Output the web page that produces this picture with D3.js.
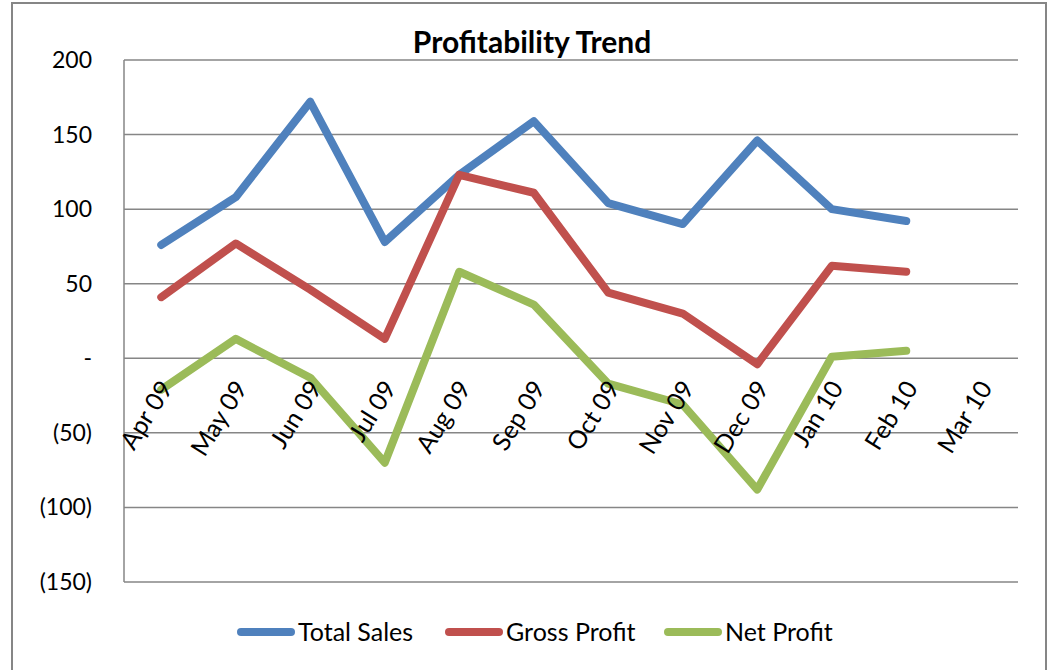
<!DOCTYPE html>
<html><head><meta charset="utf-8">
<script src="https://cdn.jsdelivr.net/npm/d3@7"></script>
<style>body{margin:0;background:#fff}svg{display:block}</style>
</head><body>
<script>
const categories = ["Apr 09","May 09","Jun 09","Jul 09","Aug 09","Sep 09","Oct 09","Nov 09","Dec 09","Jan 10","Feb 10","Mar 10"];
const totalSales = [76,108,172,78,123,159,104,90,146,100,92,null];
const grossProfit = [41,77,46,13,123,111,44,30,-4,62,58,null];
const netProfit = [-21,13,-13,-70,58,36,-17,-31,-88,1,5,null];
const yTicks = [200,150,100,50,0,-50,-100,-150];
const seriesNames = ["Total Sales","Gross Profit","Net Profit"];
const seriesColors = ["#4F81BD","#C0504D","#9BBB59"];
const series = [totalSales, grossProfit, netProfit];

const W=1049,H=670;
const font = "Lato, 'Open Sans', sans-serif";
const svg = d3.select("body").append("svg").attr("width",W).attr("height",H);
svg.append("rect").attr("x",12).attr("y",3).attr("width",1034).attr("height",700)
  .attr("fill","#fff").attr("stroke","#868686").attr("stroke-width",2);

const L=124,R=1018,T=60,B=582;
const x = d3.scaleBand().domain(categories).range([L,R]);
const y = d3.scaleLinear().domain([-150,200]).range([B,T]);

// grid
svg.append("g").selectAll("line").data(yTicks).join("line")
  .attr("x1",L).attr("x2",R).attr("y1",d=>y(d)).attr("y2",d=>y(d))
  .attr("stroke","#868686").attr("stroke-width",1.5);
svg.append("line").attr("x1",L).attr("x2",L).attr("y1",T).attr("y2",B)
  .attr("stroke","#868686").attr("stroke-width",1.5);

// y labels
const fmt = d => d===0 ? "-" : d<0 ? "("+Math.abs(d)+")" : String(d);
svg.append("g").selectAll("text").data(yTicks).join("text")
  .attr("x",92).attr("y",d=>y(d)).attr("dy","0.35em").attr("text-anchor","end")
  .attr("font-family",font).attr("font-size",23).attr("fill","#000").text(fmt);

// title
svg.append("text").attr("x",532).attr("y",53).attr("text-anchor","middle")
  .attr("font-family",font).attr("font-size",30).attr("font-weight","bold").text("Profitability Trend");

// lines
const line = d3.line().defined(d=>d.v!=null).x(d=>x(d.c)+x.bandwidth()/2).y(d=>y(d.v));
series.forEach((s,i)=>{
  svg.append("path").datum(categories.map((c,j)=>({c,v:s[j]})))
    .attr("d",line).attr("fill","none").attr("stroke",seriesColors[i])
    .attr("stroke-width",8).attr("stroke-linejoin","round").attr("stroke-linecap","round");
});

// x labels
svg.append("g").selectAll("text").data(categories).join("text")
  .attr("transform",d=>`translate(${x(d)+x.bandwidth()/2+5},${y(0)+25}) rotate(-58)`)
  .attr("text-anchor","end").attr("dy","0.35em")
  .attr("font-family",font).attr("font-size",25).attr("fill","#000").text(d=>d);

// legend
const legX=[237,445,664];
seriesNames.forEach((n,i)=>{
  svg.append("line").attr("x1",legX[i]+4).attr("x2",legX[i]+54).attr("y1",632).attr("y2",632)
    .attr("stroke",seriesColors[i]).attr("stroke-width",8).attr("stroke-linecap","round");
  svg.append("text").attr("x",legX[i]+61).attr("y",632).attr("dy","0.35em")
    .attr("font-family",font).attr("font-size",25).text(n);
});
</script>
</body></html>
